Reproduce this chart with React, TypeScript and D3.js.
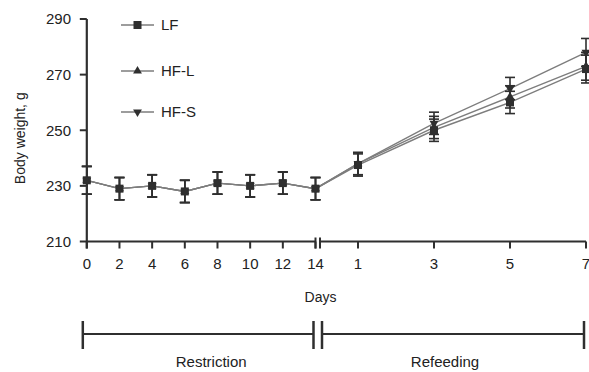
import { useMemo } from 'react';
import * as d3 from 'd3';

// restriction phase (days 0-14) and refeeding phase (days 1-7)
const restrictionDays = [0, 2, 4, 6, 8, 10, 12, 14];
const refeedingDays = [1, 3, 5, 7];
const yTicks = [210, 230, 250, 270, 290];

const seriesNames = ['LF', 'HF-L', 'HF-S'];
const restrictionValues = [
  [232, 229, 230, 228, 231, 230, 231, 229],
  [232, 229, 230, 228, 231, 230, 231, 229],
  [232, 229, 230, 228, 231, 230, 231, 229],
];
const restrictionErr = [5, 4, 4, 4, 4, 4, 4, 4];
const refeedingValues = [
  [237.5, 250, 260, 272],
  [238, 251, 262, 273],
  [238, 252.5, 265, 278],
];
const refeedingErr = [4, 4, 4, 5];
const phaseLabels = ['Restriction', 'Refeeding'];

type Pt = { x: number; v: number; e: number };

const W = 589;
const H = 372;
const FONT = 'Liberation Sans, Arial, sans-serif';
const DARK = '#2f2f2f';
const LINE = '#7d7d7d';

const Marker = ({ kind, x, y }: { kind: number; x: number; y: number }) => {
  if (kind === 0) return <rect x={x - 4} y={y - 4} width={8} height={8} fill={DARK} />;
  const sym = d3.symbol().type(d3.symbolTriangle).size(34)();
  return (
    <path
      d={sym!}
      transform={`translate(${x},${y})${kind === 2 ? ' rotate(180)' : ''}`}
      fill={DARK}
    />
  );
};

export default function App() {
  const xR = useMemo(() => d3.scaleLinear().domain([0, 14]).range([86.8, 315.5]), []);
  const xF = useMemo(() => d3.scaleLinear().domain([0, 7]).range([320, 586]), []);
  const y = useMemo(() => d3.scaleLinear().domain([210, 290]).range([241.5, 19]), []);

  const series: Pt[][] = seriesNames.map((_, s) => [
    ...restrictionDays.map((d, i) => ({ x: xR(d), v: restrictionValues[s][i], e: restrictionErr[i] })),
    ...refeedingDays.map((d, i) => ({ x: xF(d), v: refeedingValues[s][i], e: refeedingErr[i] })),
  ]);

  const line = d3
    .line<Pt>()
    .x((d) => d.x)
    .y((d) => y(d.v));

  const axisY = y(210);
  const barY = 334;

  return (
    <svg width={W} height={H} style={{ position: 'absolute', left: 0, top: 0 }} fontFamily={FONT}>
      <rect width={W} height={H} fill="#fff" />

      {/* y axis */}
      <line x1={xR(0)} x2={xR(0)} y1={y(290)} y2={axisY + 7} stroke={DARK} strokeWidth={2.2} />
      {yTicks.map((t) => (
        <g key={t}>
          <line x1={xR(0) - 7} x2={xR(0)} y1={y(t)} y2={y(t)} stroke={DARK} strokeWidth={2} />
          <text x={71} y={y(t)} dy="0.35em" textAnchor="end" fontSize={15} fill="#222">
            {t}
          </text>
        </g>
      ))}
      <text
        transform={`translate(25,${(y(290) + y(210)) / 2 + 8}) rotate(-90)`}
        textAnchor="middle"
        fontSize={14}
        fill="#222"
      >
        Body weight, g
      </text>

      {/* x axis, broken */}
      <line x1={xR(0)} x2={xR(14)} y1={axisY} y2={axisY} stroke={DARK} strokeWidth={2.2} />
      <line x1={xF(0)} x2={xF(7)} y1={axisY} y2={axisY} stroke={DARK} strokeWidth={2.2} />
      <line x1={xR(14)} x2={xR(14)} y1={axisY - 4} y2={axisY + 7} stroke={DARK} strokeWidth={2} />
      <line x1={xF(0)} x2={xF(0)} y1={axisY - 4} y2={axisY + 7} stroke={DARK} strokeWidth={2} />
      {restrictionDays.map((d) => (
        <g key={'r' + d}>
          <line x1={xR(d)} x2={xR(d)} y1={axisY} y2={axisY + 7} stroke={DARK} strokeWidth={2} />
          <text x={xR(d)} y={axisY + 27} textAnchor="middle" fontSize={15} fill="#222">
            {d}
          </text>
        </g>
      ))}
      {refeedingDays.map((d) => (
        <g key={'f' + d}>
          <line x1={xF(d)} x2={xF(d)} y1={axisY} y2={axisY + 7} stroke={DARK} strokeWidth={2} />
          <text x={xF(d)} y={axisY + 27} textAnchor={d === 7 ? 'end' : 'middle'} dx={d === 7 ? 4 : 0} fontSize={15} fill="#222">
            {d}
          </text>
        </g>
      ))}
      <text x={xR(14) + 5} y={axisY + 60} textAnchor="middle" fontSize={14} fill="#222">
        Days
      </text>

      {/* series */}
      {series.map((pts, s) => (
        <path key={'l' + s} d={line(pts)!} fill="none" stroke={LINE} strokeWidth={1.4} />
      ))}
      {series.map((pts, s) => (
        <g key={'e' + s}>
          {pts.map((p, i) => (
            <g key={i} stroke={DARK} strokeWidth={1.6}>
              <line x1={p.x} x2={p.x} y1={y(p.v + p.e)} y2={y(p.v - p.e)} />
              <line x1={p.x - 5} x2={p.x + 5} y1={y(p.v + p.e)} y2={y(p.v + p.e)} />
              <line x1={p.x - 5} x2={p.x + 5} y1={y(p.v - p.e)} y2={y(p.v - p.e)} />
            </g>
          ))}
        </g>
      ))}
      {series.map((pts, s) => (
        <g key={'m' + s}>
          {pts.map((p, i) => (
            <Marker key={i} kind={s} x={p.x} y={y(p.v)} />
          ))}
        </g>
      ))}

      {/* legend */}
      {seriesNames.map((n, s) => {
        const ly = [25, 71, 112][s];
        return (
          <g key={n}>
            <line x1={121} x2={154} y1={ly} y2={ly} stroke={LINE} strokeWidth={1.4} />
            <Marker kind={s} x={137.5} y={ly} />
            <text x={161} y={ly} dy="0.35em" fontSize={15} fill="#222">
              {n}
            </text>
          </g>
        );
      })}

      {/* phase bar */}
      {phaseLabels.map((lab, i) => {
        const x1 = i === 0 ? xR(0) - 4 : xF(0) + 2;
        const x2 = i === 0 ? xR(14) - 2 : xF(7) - 2;
        const labX = i === 0 ? (x1 + x2) / 2 + 13 : (x1 + x2) / 2 - 8;
        return (
          <g key={lab} stroke={DARK}>
            <line x1={x1} x2={x2} y1={barY} y2={barY} strokeWidth={2.2} />
            <line x1={x1} x2={x1} y1={barY - 13} y2={barY + 15} strokeWidth={2.5} />
            <line x1={x2} x2={x2} y1={barY - 13} y2={barY + 15} strokeWidth={2.5} />
            <text x={labX} y={367} textAnchor="middle" fontSize={15} fill="#222" stroke="none">
              {lab}
            </text>
          </g>
        );
      })}
    </svg>
  );
}
